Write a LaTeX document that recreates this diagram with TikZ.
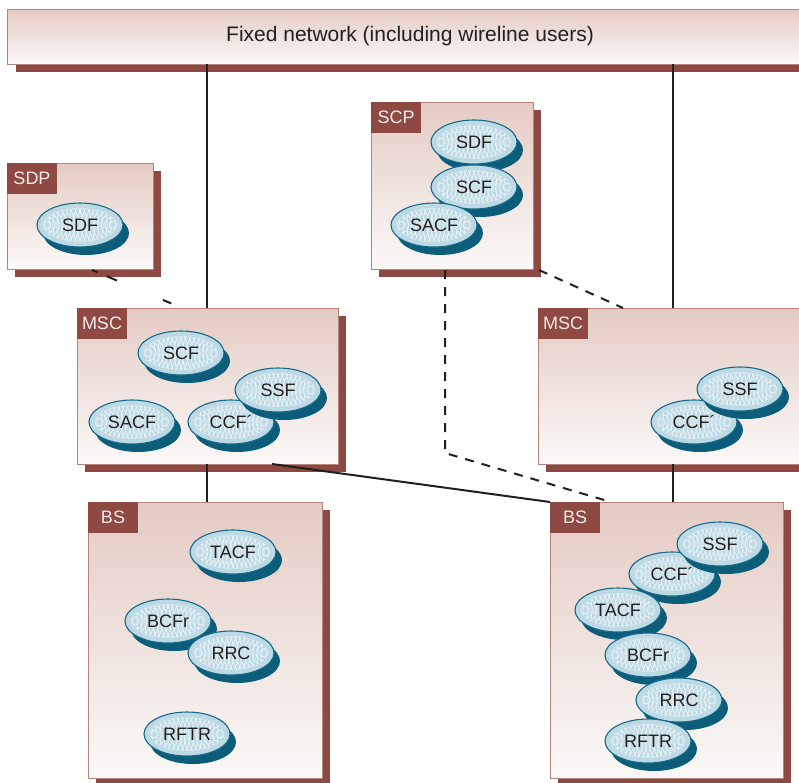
\documentclass[tikz,border=0pt]{standalone}
\usepackage{fontspec}
\setmainfont{Liberation Sans}
\usetikzlibrary{shapes.geometric,calc}
\definecolor{brn}{HTML}{8E4A42}
\definecolor{bxborder}{HTML}{B5857C}
\definecolor{bxtop}{HTML}{E4CBC3}
\definecolor{bxbot}{HTML}{FBF9F8}
\definecolor{lbltxt}{HTML}{F3EBE9}
\definecolor{txt}{HTML}{231F20}
\definecolor{efill}{HTML}{BDD9E4}
\definecolor{etex}{HTML}{E6F1F5}
\definecolor{eborder}{HTML}{16698A}
\definecolor{eshadow}{HTML}{0B5D7A}
\tikzset{
  netbox/.style={draw=bxborder, line width=0.8pt, top color=bxtop, bottom color=bxbot,
    inner sep=0pt, outer sep=0pt, anchor=north west},
  lblbox/.style={fill=brn, text=lbltxt, inner sep=0pt, outer sep=0pt, minimum width=50pt,
    minimum height=31pt, anchor=north west, font=\fontsize{18}{21}\selectfont},
  fnell/.style={ellipse, draw=eborder, line width=1.1pt, fill=efill, minimum width=86pt,
    minimum height=44pt, inner sep=0pt, text=txt, font=\fontsize{18}{21}\selectfont,
    path picture={
      \begin{scope}
      \clip (path picture bounding box.center) ellipse [x radius=37, y radius=17];
      \foreach \r in {4,8,...,76} {
        \draw[etex, line width=0.9pt] ($(path picture bounding box.west)+(10,0)$) circle [radius=\r];
        \draw[etex, line width=0.9pt] ($(path picture bounding box.east)+(-10,0)$) circle [radius=\r];
      }
      \end{scope}
    }},
  thinln/.style={draw=txt, line width=1.2pt},
  thickln/.style={draw=txt, line width=2.1pt},
  solidln/.style={draw=txt, line width=2pt},
  dashln/.style={draw=txt, line width=2pt, dash pattern=on 9pt off 8pt},
}
\newcommand\netunit[6]{%
  \fill[brn] ({#2+8},{#3+8}) rectangle ({#4+8},{#5+8});
  \node[netbox, minimum width={(#4-#2)*1pt}, minimum height={(#5-#3)*1pt}] (#1) at (#2,#3) {};
  \node[lblbox] (#1-lbl) at (#1.north west) {#6};
}
\newcommand\fnunit[4]{%
  \fill[eshadow] ({#2+6},{#3+8}) ellipse [x radius=43, y radius=22];
  \node[fnell] (#1) at (#2,#3) {#4};
}
\begin{document}
\begin{tikzpicture}[x=1pt,y=-1pt]
\useasboundingbox (0,0) rectangle (799,782);
\clip (0,0) rectangle (799,782);
\fill[white] (0,0) rectangle (799,782);

% fixed network bar
\fill[brn] (15.5,17) rectangle (812,72);
\node[netbox, minimum width=805pt, minimum height=55pt, text=txt,
  font=\fontsize{21}{24}\selectfont] (fixed) at (7.5,9) {Fixed network (including wireline users)};

% boxes
\netunit{sdp}{7}{163}{153}{269}{SDP}
\netunit{scp}{371}{102}{533}{269}{SCP}
\netunit{msc1}{77}{308}{338}{464}{MSC}
\netunit{msc2}{538}{308}{812}{464}{MSC}
\netunit{bs1}{88}{502}{322}{778}{BS}
\netunit{bs2}{550}{502}{783}{778}{BS}

% functions
\fnunit{sdpsdf}{80}{225}{SDF}
\fnunit{scpsdf}{474}{142}{SDF}
\fnunit{scpscf}{474}{187}{SCF}
\fnunit{scpsacf}{434}{225}{SACF}
\fnunit{maScf}{181}{353}{SCF}
\fnunit{maSacf}{132}{422}{SACF}
\fnunit{maCcf}{231}{422}{CCF´}
\fnunit{maSsf}{278}{390}{SSF}
\fnunit{mbCcf}{694}{422}{CCF´}
\fnunit{mbSsf}{740}{389}{SSF}
\fnunit{baTacf}{233}{552}{TACF}
\fnunit{baBcfr}{168}{621}{BCFr}
\fnunit{baRrc}{231}{653}{RRC}
\fnunit{baRftr}{187}{734}{RFTR}
\fnunit{bbCcf}{672}{574}{CCF´}
\fnunit{bbSsf}{720}{544}{SSF}
\fnunit{bbTacf}{618}{610}{TACF}
\fnunit{bbBcfr}{648}{655}{BCFr}
\fnunit{bbRrc}{679}{700}{RRC}
\fnunit{bbRftr}{648}{741}{RFTR}

% connectors
\coordinate (xL) at (207,0);
\coordinate (xR) at (673,0);
\draw[thinln] (fixed.south -| xL) -- (msc1.north -| xL);
\draw[thinln] (msc1.south -| xL) -- (bs1.north -| xL);
\draw[thickln] (fixed.south -| xR) -- (msc2.north -| xR);
\draw[thickln] (msc2.south -| xR) -- (bs2.north -| xR);
\draw[solidln] ($(msc1.south west)+(195,0)$) -- (bs2.north west);
\draw[dashln] ($(scp.south west)+(74,1)$) -- ++(0,183) -- ($(bs2.north west)+(61,0)$);
\draw[dashln] ($(scp.south east)+(6,1)$) -- ($(msc2.north west)+(85,0)$);
\draw[dashln, dash pattern=on 6pt off 10pt on 11pt off 50pt on 9pt off 30pt]
  ($(sdp.south west)+(85,1)$) -- ($(msc1.north west)+(105,0)$);
\end{tikzpicture}
\end{document}
